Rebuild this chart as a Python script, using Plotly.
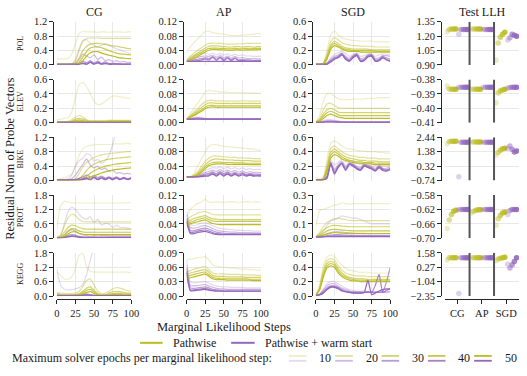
import plotly.graph_objects as go

# ---------------- data ----------------
X = [0, 5, 10, 15, 20, 25, 30, 35, 40, 45, 50, 55, 60, 65, 70, 75, 80, 85, 90, 95, 100]
EPOCHS = [10, 20, 30, 40, 50]
DATASETS = ["POL", "ELEV", "BIKE", "PROT", "KEGG"]
SOLVERS = ["CG", "AP", "SGD"]

# residual norm, one list per epoch budget (10, 20, 30, 40, 50); PW = pathwise, WS = pathwise + warm start
POL_CG_PW = [
    [0.17,0.17,0.17,0.18,0.30,0.60,0.88,0.93,0.92,0.92,0.92,0.91,0.92,0.92,0.91,0.92,0.92,0.92,0.91,0.92,0.92],
    [0.02,0.02,0.02,0.02,0.03,0.15,0.45,0.66,0.73,0.75,0.75,0.75,0.74,0.74,0.74,0.74,0.74,0.74,0.74,0.74,0.74],
    [0.02,0.02,0.02,0.02,0.02,0.05,0.20,0.40,0.52,0.58,0.60,0.60,0.59,0.57,0.55,0.53,0.52,0.50,0.48,0.46,0.45],
    [0.02,0.02,0.02,0.02,0.02,0.03,0.08,0.22,0.38,0.47,0.50,0.50,0.48,0.44,0.40,0.36,0.33,0.31,0.30,0.29,0.28],
    [0.02,0.02,0.02,0.02,0.02,0.02,0.04,0.12,0.25,0.34,0.37,0.37,0.33,0.30,0.27,0.25,0.22,0.20,0.19,0.18,0.18],
]
POL_CG_WS = [
    [0.02,0.02,0.02,0.02,0.02,0.10,0.40,0.68,0.70,0.60,0.55,0.50,0.55,0.60,0.55,0.50,0.45,0.42,0.38,0.34,0.30],
    [0.02,0.02,0.02,0.02,0.02,0.04,0.15,0.30,0.25,0.20,0.28,0.15,0.22,0.12,0.15,0.10,0.12,0.08,0.10,0.07,0.08],
    [0.02,0.02,0.02,0.02,0.02,0.02,0.05,0.10,0.06,0.12,0.05,0.11,0.04,0.09,0.04,0.05,0.04,0.04,0.03,0.03,0.03],
    [0.02,0.02,0.02,0.02,0.02,0.02,0.03,0.06,0.03,0.09,0.03,0.08,0.03,0.06,0.03,0.03,0.03,0.02,0.02,0.02,0.02],
    [0.02,0.02,0.02,0.02,0.02,0.02,0.02,0.04,0.02,0.07,0.02,0.06,0.02,0.04,0.02,0.02,0.02,0.02,0.02,0.02,0.02],
]
POL_AP_PW = [
    [0.035,0.050,0.062,0.073,0.083,0.093,0.094,0.090,0.088,0.087,0.086,0.084,0.082,0.081,0.082,0.083,0.084,0.085,0.086,0.087,0.087],
    [0.015,0.025,0.033,0.041,0.048,0.055,0.060,0.061,0.060,0.060,0.059,0.058,0.058,0.058,0.059,0.059,0.060,0.060,0.060,0.060,0.061],
    [0.012,0.020,0.027,0.034,0.040,0.047,0.052,0.053,0.053,0.052,0.051,0.050,0.050,0.051,0.051,0.050,0.051,0.051,0.050,0.051,0.051],
    [0.010,0.016,0.022,0.029,0.035,0.041,0.046,0.047,0.047,0.046,0.046,0.045,0.045,0.046,0.045,0.045,0.046,0.045,0.046,0.046,0.046],
    [0.010,0.013,0.018,0.024,0.030,0.036,0.041,0.043,0.043,0.042,0.042,0.041,0.041,0.042,0.042,0.041,0.042,0.042,0.042,0.042,0.043],
]
POL_AP_WS = [
    [0.010,0.018,0.025,0.030,0.033,0.032,0.030,0.033,0.028,0.032,0.027,0.031,0.026,0.030,0.026,0.028,0.025,0.025,0.024,0.024,0.024],
    [0.010,0.014,0.018,0.021,0.024,0.025,0.024,0.027,0.021,0.026,0.020,0.025,0.019,0.024,0.019,0.021,0.018,0.018,0.018,0.017,0.017],
    [0.010,0.012,0.014,0.016,0.018,0.020,0.018,0.023,0.016,0.022,0.015,0.021,0.015,0.020,0.014,0.016,0.014,0.014,0.013,0.013,0.013],
    [0.010,0.010,0.011,0.012,0.014,0.017,0.014,0.021,0.013,0.020,0.012,0.019,0.012,0.018,0.012,0.013,0.011,0.011,0.011,0.011,0.011],
    [0.010,0.010,0.010,0.010,0.010,0.010,0.010,0.010,0.010,0.010,0.010,0.010,0.010,0.010,0.010,0.010,0.010,0.010,0.010,0.010,0.010],
]
POL_SGD_PW = [
    [0.01,0.01,0.03,0.20,0.42,0.47,0.42,0.38,0.36,0.35,0.34,0.34,0.33,0.33,0.33,0.33,0.32,0.32,0.32,0.32,0.32],
    [0.01,0.01,0.02,0.15,0.33,0.38,0.35,0.31,0.29,0.28,0.27,0.27,0.26,0.26,0.26,0.26,0.25,0.25,0.25,0.25,0.25],
    [0.01,0.01,0.02,0.12,0.28,0.33,0.30,0.26,0.24,0.23,0.22,0.22,0.22,0.22,0.22,0.21,0.21,0.21,0.21,0.21,0.21],
    [0.01,0.01,0.01,0.10,0.25,0.30,0.27,0.24,0.22,0.21,0.20,0.20,0.20,0.20,0.20,0.20,0.19,0.19,0.19,0.19,0.19],
    [0.01,0.01,0.01,0.08,0.22,0.27,0.25,0.22,0.20,0.19,0.19,0.19,0.18,0.18,0.18,0.18,0.18,0.18,0.18,0.18,0.18],
]
POL_SGD_WS = [
    [0.01,0.01,0.01,0.03,0.10,0.15,0.17,0.19,0.16,0.12,0.15,0.17,0.12,0.13,0.16,0.15,0.12,0.14,0.15,0.15,0.14],
    [0.01,0.01,0.01,0.02,0.08,0.12,0.14,0.17,0.12,0.09,0.13,0.16,0.09,0.10,0.14,0.15,0.09,0.10,0.13,0.13,0.12],
    [0.01,0.01,0.01,0.02,0.06,0.10,0.12,0.16,0.10,0.07,0.12,0.15,0.07,0.08,0.13,0.14,0.07,0.08,0.12,0.10,0.08],
    [0.01,0.01,0.01,0.01,0.05,0.09,0.11,0.15,0.09,0.06,0.11,0.14,0.06,0.07,0.12,0.13,0.06,0.07,0.11,0.08,0.06],
    [0.01,0.01,0.01,0.01,0.04,0.08,0.10,0.14,0.08,0.05,0.10,0.13,0.05,0.06,0.11,0.12,0.05,0.06,0.10,0.07,0.05],
]

ELEV_CG_PW = [
    [0.04,0.05,0.06,0.07,0.15,0.35,0.53,0.56,0.50,0.40,0.30,0.25,0.26,0.30,0.34,0.37,0.37,0.36,0.35,0.34,0.33],
    [0.01,0.01,0.01,0.02,0.04,0.08,0.10,0.08,0.04,0.03,0.03,0.03,0.03,0.03,0.035,0.035,0.035,0.035,0.035,0.035,0.035],
    [0.01,0.01,0.01,0.01,0.02,0.05,0.06,0.05,0.03,0.02,0.02,0.02,0.02,0.02,0.025,0.025,0.025,0.025,0.025,0.025,0.025],
    [0.01,0.01,0.01,0.01,0.015,0.03,0.04,0.03,0.02,0.015,0.015,0.015,0.015,0.015,0.02,0.02,0.02,0.02,0.02,0.02,0.02],
    [0.01,0.01,0.01,0.01,0.01,0.015,0.02,0.02,0.015,0.01,0.01,0.01,0.01,0.01,0.012,0.012,0.012,0.012,0.012,0.012,0.012],
]
ELEV_CG_WS = [
    [0.005,0.005,0.005,0.010,0.020,0.030,0.025,0.015,0.010,0.008,0.008,0.008,0.008,0.008,0.008,0.008,0.008,0.008,0.008,0.008,0.008],
    [0.005,0.005,0.005,0.008,0.012,0.015,0.012,0.009,0.007,0.006,0.006,0.006,0.006,0.006,0.006,0.006,0.006,0.006,0.006,0.006,0.006],
    [0.005,0.005,0.005,0.006,0.008,0.010,0.009,0.007,0.006,0.005,0.005,0.005,0.005,0.005,0.005,0.005,0.005,0.005,0.005,0.005,0.005],
    [0.005,0.005,0.005,0.005,0.006,0.007,0.007,0.006,0.005,0.005,0.005,0.005,0.005,0.005,0.005,0.005,0.005,0.005,0.005,0.005,0.005],
    [0.005,0.005,0.005,0.005,0.005,0.005,0.005,0.005,0.005,0.005,0.005,0.005,0.005,0.005,0.005,0.005,0.005,0.005,0.005,0.005,0.005],
]
ELEV_AP_PW = [
    [0.010,0.025,0.040,0.055,0.070,0.085,0.090,0.088,0.087,0.086,0.085,0.085,0.084,0.084,0.084,0.083,0.083,0.083,0.083,0.082,0.082],
    [0.010,0.020,0.030,0.040,0.050,0.058,0.062,0.062,0.061,0.061,0.061,0.060,0.060,0.060,0.060,0.061,0.061,0.060,0.060,0.060,0.060],
    [0.010,0.018,0.026,0.034,0.042,0.050,0.055,0.055,0.054,0.054,0.054,0.054,0.053,0.054,0.054,0.054,0.054,0.054,0.054,0.054,0.054],
    [0.010,0.016,0.022,0.029,0.036,0.043,0.048,0.048,0.047,0.047,0.047,0.047,0.047,0.047,0.047,0.047,0.047,0.047,0.047,0.047,0.047],
    [0.010,0.015,0.020,0.026,0.032,0.039,0.043,0.044,0.043,0.043,0.043,0.043,0.043,0.043,0.043,0.043,0.043,0.043,0.043,0.043,0.043],
]
ELEV_AP_WS = [
    [0.010,0.012,0.015,0.016,0.015,0.012,0.010,0.010,0.010,0.010,0.010,0.010,0.010,0.010,0.010,0.010,0.010,0.010,0.010,0.010,0.010],
    [0.010,0.011,0.013,0.014,0.013,0.011,0.010,0.010,0.010,0.010,0.010,0.010,0.010,0.010,0.010,0.010,0.010,0.010,0.010,0.010,0.010],
    [0.010,0.010,0.011,0.012,0.011,0.010,0.010,0.010,0.010,0.010,0.010,0.010,0.010,0.010,0.010,0.010,0.010,0.010,0.010,0.010,0.010],
    [0.010,0.010,0.010,0.011,0.010,0.010,0.010,0.010,0.010,0.010,0.010,0.010,0.010,0.010,0.010,0.010,0.010,0.010,0.010,0.010,0.010],
    [0.010,0.010,0.010,0.010,0.010,0.010,0.010,0.010,0.010,0.010,0.010,0.010,0.010,0.010,0.010,0.010,0.010,0.010,0.010,0.010,0.010],
]
ELEV_SGD_PW = [
    [0.01,0.10,0.30,0.40,0.41,0.37,0.33,0.32,0.32,0.32,0.33,0.33,0.33,0.33,0.34,0.34,0.34,0.35,0.35,0.35,0.35],
    [0.01,0.06,0.18,0.26,0.27,0.24,0.21,0.20,0.20,0.20,0.20,0.20,0.20,0.20,0.20,0.20,0.20,0.20,0.20,0.20,0.20],
    [0.01,0.04,0.12,0.18,0.20,0.18,0.15,0.14,0.14,0.14,0.14,0.14,0.14,0.14,0.14,0.14,0.14,0.14,0.14,0.14,0.14],
    [0.01,0.03,0.09,0.14,0.16,0.14,0.11,0.10,0.10,0.10,0.10,0.10,0.10,0.10,0.10,0.10,0.10,0.10,0.10,0.10,0.10],
    [0.01,0.02,0.06,0.10,0.12,0.10,0.08,0.07,0.06,0.06,0.06,0.06,0.06,0.06,0.06,0.06,0.06,0.06,0.06,0.06,0.06],
]
ELEV_SGD_WS = [
    [0.005,0.010,0.030,0.045,0.045,0.035,0.025,0.020,0.015,0.012,0.012,0.012,0.012,0.012,0.012,0.012,0.012,0.012,0.012,0.012,0.012],
    [0.005,0.008,0.020,0.030,0.030,0.025,0.018,0.014,0.012,0.010,0.010,0.010,0.010,0.010,0.010,0.010,0.010,0.010,0.010,0.010,0.010],
    [0.005,0.006,0.012,0.018,0.018,0.015,0.012,0.010,0.008,0.008,0.008,0.008,0.008,0.008,0.008,0.008,0.008,0.008,0.008,0.008,0.008],
    [0.005,0.005,0.008,0.012,0.012,0.010,0.008,0.007,0.006,0.006,0.006,0.006,0.006,0.006,0.006,0.006,0.006,0.006,0.006,0.006,0.006],
    [0.005,0.005,0.006,0.008,0.008,0.007,0.006,0.005,0.005,0.005,0.005,0.005,0.005,0.005,0.005,0.005,0.005,0.005,0.005,0.005,0.005],
]

BIKE_CG_PW = [
    [0.03,0.05,0.08,0.12,0.18,0.40,0.70,0.88,0.96,0.98,0.99,1.00,1.00,1.00,1.00,1.01,1.02,1.02,1.02,1.03,1.02],
    [0.01,0.01,0.01,0.01,0.01,0.05,0.20,0.38,0.50,0.58,0.64,0.68,0.71,0.73,0.75,0.76,0.77,0.78,0.79,0.80,0.80],
    [0.01,0.01,0.01,0.01,0.01,0.02,0.06,0.15,0.28,0.38,0.45,0.50,0.54,0.57,0.59,0.61,0.62,0.63,0.64,0.65,0.66],
    [0.01,0.01,0.01,0.01,0.01,0.01,0.02,0.06,0.12,0.20,0.27,0.32,0.36,0.40,0.42,0.44,0.46,0.47,0.48,0.49,0.50],
    [0.01,0.01,0.01,0.01,0.01,0.01,0.01,0.02,0.05,0.09,0.13,0.17,0.21,0.24,0.27,0.29,0.31,0.32,0.33,0.34,0.35],
]
BIKE_CG_WS = [
    [0.02,0.02,0.02,0.04,0.15,0.40,0.55,0.62,0.75,0.70,0.55,0.58,0.48,0.55,0.70,1.00,1.40,1.80,2.00,2.00,2.00],
    [0.02,0.02,0.02,0.02,0.05,0.15,0.30,0.45,0.60,0.42,0.35,0.40,0.30,0.35,0.25,0.28,0.20,0.22,0.18,0.20,0.18],
    [0.02,0.02,0.02,0.02,0.02,0.03,0.06,0.10,0.15,0.10,0.14,0.08,0.12,0.07,0.10,0.06,0.10,0.05,0.09,0.05,0.08],
    [0.02,0.02,0.02,0.02,0.02,0.02,0.03,0.05,0.08,0.04,0.10,0.04,0.09,0.04,0.09,0.03,0.08,0.03,0.08,0.03,0.07],
    [0.02,0.02,0.02,0.02,0.02,0.02,0.02,0.03,0.05,0.02,0.08,0.02,0.07,0.02,0.07,0.02,0.07,0.02,0.06,0.02,0.06],
]
BIKE_AP_PW = [
    [0.010,0.010,0.020,0.040,0.060,0.080,0.095,0.100,0.099,0.097,0.095,0.094,0.093,0.092,0.091,0.090,0.089,0.088,0.087,0.085,0.084],
    [0.010,0.010,0.015,0.025,0.040,0.053,0.062,0.068,0.068,0.067,0.066,0.065,0.064,0.064,0.063,0.063,0.062,0.062,0.061,0.061,0.060],
    [0.010,0.010,0.013,0.020,0.032,0.044,0.053,0.058,0.060,0.059,0.058,0.057,0.057,0.056,0.056,0.055,0.055,0.055,0.054,0.054,0.054],
    [0.010,0.010,0.012,0.017,0.027,0.038,0.046,0.050,0.051,0.051,0.050,0.050,0.050,0.049,0.049,0.049,0.048,0.048,0.048,0.048,0.048],
    [0.010,0.010,0.011,0.015,0.023,0.033,0.041,0.045,0.046,0.046,0.046,0.045,0.045,0.045,0.045,0.045,0.045,0.044,0.044,0.044,0.044],
]
BIKE_AP_WS = [
    [0.010,0.010,0.012,0.016,0.022,0.028,0.032,0.036,0.034,0.038,0.033,0.037,0.032,0.036,0.031,0.035,0.030,0.033,0.030,0.031,0.030],
    [0.010,0.010,0.011,0.014,0.018,0.022,0.025,0.029,0.025,0.030,0.025,0.029,0.024,0.028,0.023,0.027,0.022,0.025,0.022,0.023,0.022],
    [0.010,0.010,0.010,0.012,0.015,0.018,0.020,0.024,0.019,0.025,0.019,0.024,0.018,0.023,0.018,0.022,0.017,0.020,0.017,0.018,0.017],
    [0.010,0.010,0.010,0.011,0.013,0.015,0.016,0.021,0.015,0.022,0.015,0.021,0.014,0.020,0.014,0.019,0.014,0.017,0.014,0.015,0.014],
    [0.010,0.010,0.010,0.010,0.011,0.012,0.013,0.018,0.012,0.019,0.012,0.018,0.012,0.017,0.012,0.016,0.012,0.015,0.012,0.013,0.012],
]
BIKE_SGD_PW = [
    [0.04,0.02,0.05,0.30,0.52,0.55,0.52,0.48,0.45,0.44,0.43,0.42,0.41,0.41,0.40,0.40,0.40,0.39,0.39,0.38,0.38],
    [0.01,0.01,0.03,0.22,0.44,0.48,0.44,0.40,0.37,0.35,0.34,0.33,0.32,0.32,0.31,0.31,0.31,0.30,0.30,0.30,0.30],
    [0.01,0.01,0.02,0.18,0.39,0.44,0.40,0.36,0.33,0.31,0.30,0.29,0.28,0.28,0.27,0.27,0.27,0.26,0.26,0.26,0.26],
    [0.01,0.01,0.02,0.15,0.35,0.40,0.37,0.33,0.30,0.28,0.27,0.26,0.26,0.25,0.25,0.25,0.24,0.24,0.24,0.24,0.24],
    [0.01,0.01,0.01,0.12,0.31,0.36,0.34,0.30,0.28,0.26,0.25,0.24,0.24,0.23,0.23,0.23,0.22,0.22,0.22,0.22,0.22],
]
BIKE_SGD_WS = [
    [0.01,0.01,0.01,0.08,0.28,0.22,0.25,0.30,0.26,0.28,0.27,0.25,0.22,0.25,0.24,0.23,0.21,0.23,0.20,0.20,0.21],
    [0.01,0.01,0.01,0.06,0.26,0.15,0.22,0.27,0.20,0.25,0.23,0.20,0.18,0.23,0.21,0.20,0.17,0.21,0.17,0.17,0.19],
    [0.01,0.01,0.01,0.05,0.25,0.12,0.20,0.25,0.17,0.24,0.22,0.18,0.16,0.22,0.20,0.18,0.15,0.20,0.16,0.15,0.17],
    [0.01,0.01,0.01,0.04,0.24,0.10,0.19,0.24,0.15,0.23,0.21,0.17,0.15,0.21,0.19,0.17,0.14,0.19,0.15,0.14,0.16],
    [0.01,0.01,0.01,0.03,0.23,0.09,0.18,0.23,0.14,0.22,0.20,0.16,0.14,0.20,0.18,0.16,0.13,0.18,0.14,0.13,0.15],
]

PROT_CG_PW = [
    [0.35,1.35,1.55,1.50,1.48,1.47,1.47,1.47,1.47,1.47,1.47,1.47,1.47,1.47,1.47,1.47,1.47,1.47,1.47,1.48,1.48],
    [0.02,0.15,0.50,0.85,1.00,0.95,0.78,0.70,0.68,0.68,0.68,0.68,0.68,0.68,0.68,0.68,0.68,0.68,0.68,0.68,0.68],
    [0.02,0.08,0.25,0.45,0.55,0.52,0.45,0.40,0.38,0.38,0.38,0.38,0.38,0.38,0.38,0.38,0.38,0.38,0.38,0.38,0.38],
    [0.02,0.05,0.15,0.30,0.40,0.38,0.30,0.26,0.25,0.25,0.25,0.25,0.25,0.25,0.25,0.25,0.25,0.25,0.25,0.25,0.25],
    [0.02,0.03,0.08,0.18,0.26,0.27,0.20,0.16,0.15,0.15,0.15,0.15,0.15,0.15,0.15,0.15,0.15,0.15,0.15,0.15,0.15],
]
PROT_CG_WS = [
    [0.02,0.10,0.60,1.10,1.30,1.20,1.00,0.85,0.80,0.90,0.65,0.80,0.55,0.62,0.60,0.45,0.55,0.45,0.45,0.42,0.40],
    [0.02,0.03,0.12,0.28,0.35,0.30,0.20,0.15,0.13,0.16,0.12,0.14,0.11,0.12,0.10,0.10,0.10,0.10,0.10,0.10,0.10],
    [0.02,0.02,0.06,0.12,0.15,0.13,0.08,0.06,0.05,0.06,0.05,0.05,0.05,0.05,0.05,0.05,0.05,0.05,0.05,0.05,0.05],
    [0.02,0.02,0.04,0.08,0.10,0.09,0.05,0.04,0.035,0.035,0.035,0.035,0.035,0.035,0.035,0.035,0.035,0.035,0.035,0.035,0.035],
    [0.02,0.02,0.03,0.06,0.08,0.07,0.04,0.03,0.03,0.03,0.03,0.03,0.03,0.03,0.03,0.03,0.03,0.03,0.03,0.03,0.03],
]
PROT_AP_PW = [
    [0.060,0.080,0.090,0.097,0.100,0.108,0.100,0.100,0.101,0.100,0.100,0.101,0.102,0.101,0.100,0.101,0.102,0.101,0.100,0.101,0.100],
    [0.050,0.060,0.065,0.070,0.073,0.075,0.070,0.066,0.065,0.065,0.065,0.065,0.065,0.065,0.065,0.065,0.065,0.065,0.065,0.065,0.065],
    [0.045,0.050,0.055,0.058,0.061,0.063,0.058,0.054,0.053,0.052,0.052,0.052,0.052,0.052,0.052,0.052,0.052,0.052,0.052,0.052,0.052],
    [0.040,0.044,0.048,0.052,0.055,0.057,0.052,0.048,0.047,0.047,0.047,0.047,0.047,0.047,0.047,0.047,0.047,0.047,0.047,0.047,0.047],
    [0.035,0.040,0.043,0.046,0.049,0.051,0.046,0.041,0.039,0.038,0.038,0.038,0.038,0.038,0.038,0.038,0.038,0.038,0.038,0.038,0.038],
]
PROT_AP_WS = [
    [0.075,0.040,0.035,0.038,0.042,0.043,0.040,0.035,0.030,0.028,0.026,0.025,0.024,0.023,0.022,0.022,0.021,0.021,0.020,0.020,0.020],
    [0.065,0.030,0.028,0.030,0.034,0.035,0.032,0.027,0.023,0.020,0.019,0.018,0.017,0.017,0.016,0.016,0.016,0.016,0.015,0.015,0.015],
    [0.055,0.022,0.021,0.024,0.027,0.028,0.025,0.021,0.017,0.015,0.014,0.013,0.013,0.013,0.012,0.012,0.012,0.012,0.012,0.012,0.012],
    [0.050,0.017,0.017,0.020,0.022,0.023,0.020,0.016,0.013,0.012,0.011,0.011,0.011,0.011,0.011,0.011,0.011,0.011,0.011,0.011,0.011],
    [0.045,0.013,0.013,0.016,0.018,0.019,0.016,0.013,0.011,0.010,0.010,0.010,0.010,0.010,0.010,0.010,0.010,0.010,0.010,0.010,0.010],
]
PROT_SGD_PW = [
    [0.08,0.19,0.20,0.21,0.22,0.23,0.235,0.245,0.24,0.238,0.24,0.24,0.238,0.24,0.24,0.24,0.24,0.24,0.24,0.24,0.24],
    [0.01,0.04,0.08,0.11,0.125,0.135,0.14,0.135,0.13,0.125,0.123,0.122,0.122,0.122,0.122,0.122,0.122,0.122,0.122,0.122,0.122],
    [0.01,0.03,0.055,0.075,0.085,0.09,0.088,0.085,0.082,0.08,0.08,0.08,0.08,0.08,0.08,0.08,0.08,0.08,0.08,0.08,0.08],
    [0.01,0.02,0.035,0.05,0.06,0.062,0.06,0.057,0.055,0.053,0.052,0.052,0.052,0.052,0.052,0.052,0.052,0.052,0.052,0.052,0.052],
    [0.01,0.015,0.022,0.03,0.036,0.04,0.038,0.036,0.034,0.033,0.033,0.033,0.033,0.033,0.033,0.033,0.033,0.033,0.033,0.033,0.033],
]
PROT_SGD_WS = [
    [0.01,0.02,0.05,0.09,0.12,0.13,0.14,0.155,0.15,0.145,0.14,0.14,0.13,0.12,0.11,0.10,0.10,0.10,0.10,0.10,0.10],
    [0.01,0.012,0.02,0.03,0.04,0.045,0.045,0.042,0.04,0.038,0.036,0.035,0.034,0.034,0.033,0.033,0.033,0.033,0.033,0.033,0.033],
    [0.01,0.01,0.013,0.018,0.022,0.025,0.025,0.023,0.022,0.02,0.02,0.02,0.02,0.02,0.02,0.02,0.02,0.02,0.02,0.02,0.02],
    [0.01,0.01,0.011,0.013,0.015,0.017,0.017,0.016,0.015,0.015,0.014,0.014,0.014,0.014,0.014,0.014,0.014,0.014,0.014,0.014,0.014],
    [0.01,0.01,0.01,0.011,0.012,0.012,0.012,0.012,0.011,0.011,0.011,0.011,0.011,0.011,0.011,0.011,0.011,0.011,0.011,0.011,0.011],
]

KEGG_CG_PW = [
    [1.03,0.85,0.72,0.70,0.80,1.15,1.70,1.78,1.20,1.02,1.00,1.00,1.00,0.99,1.00,1.00,1.00,0.99,1.00,0.99,0.98],
    [0.15,0.12,0.10,0.10,0.10,0.12,0.20,0.40,0.65,0.72,0.45,0.20,0.10,0.12,0.20,0.30,0.35,0.33,0.28,0.22,0.20],
    [0.08,0.06,0.05,0.05,0.05,0.06,0.10,0.20,0.33,0.38,0.25,0.10,0.05,0.06,0.12,0.18,0.20,0.18,0.15,0.12,0.12],
    [0.05,0.04,0.03,0.03,0.03,0.04,0.06,0.14,0.24,0.28,0.18,0.06,0.03,0.04,0.07,0.10,0.12,0.11,0.09,0.08,0.08],
    [0.03,0.02,0.02,0.02,0.02,0.03,0.04,0.09,0.15,0.18,0.11,0.04,0.02,0.03,0.04,0.06,0.07,0.06,0.05,0.05,0.05],
]
KEGG_CG_WS = [
    [1.10,0.45,0.28,0.26,0.27,0.30,0.35,0.50,0.90,1.50,2.10,2.50,2.50,2.50,2.50,2.50,2.50,2.50,2.50,2.50,2.50],
    [0.10,0.05,0.04,0.04,0.04,0.05,0.06,0.08,0.10,0.06,0.04,0.03,0.03,0.03,0.03,0.03,0.03,0.03,0.03,0.03,0.03],
    [0.03,0.02,0.02,0.02,0.02,0.02,0.03,0.04,0.06,0.04,0.03,0.02,0.02,0.02,0.02,0.02,0.02,0.02,0.02,0.02,0.02],
    [0.02,0.02,0.02,0.02,0.02,0.02,0.02,0.03,0.05,0.03,0.02,0.02,0.02,0.02,0.02,0.02,0.02,0.02,0.02,0.02,0.02],
    [0.02,0.02,0.02,0.02,0.02,0.02,0.02,0.03,0.04,0.03,0.02,0.02,0.02,0.02,0.02,0.02,0.02,0.02,0.02,0.02,0.02],
]
KEGG_AP_PW = [
    [0.076,0.077,0.078,0.080,0.081,0.082,0.075,0.065,0.062,0.061,0.060,0.059,0.058,0.058,0.057,0.056,0.056,0.055,0.055,0.054,0.054],
    [0.050,0.053,0.056,0.058,0.060,0.061,0.055,0.048,0.046,0.046,0.046,0.045,0.045,0.045,0.045,0.044,0.044,0.044,0.044,0.043,0.043],
    [0.045,0.048,0.050,0.052,0.054,0.055,0.050,0.043,0.041,0.041,0.041,0.040,0.040,0.040,0.040,0.040,0.039,0.039,0.039,0.039,0.039],
    [0.040,0.043,0.045,0.047,0.049,0.050,0.045,0.039,0.037,0.037,0.037,0.036,0.036,0.036,0.036,0.036,0.036,0.035,0.035,0.035,0.035],
    [0.035,0.038,0.040,0.042,0.044,0.046,0.041,0.036,0.034,0.034,0.034,0.033,0.033,0.033,0.033,0.033,0.033,0.033,0.032,0.032,0.032],
]
KEGG_AP_WS = [
    [0.075,0.030,0.028,0.028,0.029,0.030,0.027,0.023,0.021,0.020,0.019,0.019,0.018,0.018,0.018,0.018,0.017,0.017,0.017,0.017,0.017],
    [0.065,0.022,0.021,0.022,0.023,0.024,0.021,0.018,0.016,0.015,0.015,0.014,0.014,0.014,0.014,0.014,0.014,0.014,0.014,0.014,0.014],
    [0.058,0.017,0.016,0.017,0.018,0.019,0.017,0.014,0.013,0.012,0.012,0.012,0.012,0.012,0.012,0.012,0.012,0.012,0.012,0.012,0.012],
    [0.052,0.013,0.013,0.014,0.015,0.016,0.014,0.012,0.011,0.011,0.010,0.010,0.010,0.010,0.010,0.010,0.010,0.010,0.010,0.010,0.010],
    [0.048,0.011,0.011,0.012,0.013,0.014,0.012,0.011,0.010,0.010,0.010,0.010,0.010,0.010,0.010,0.010,0.010,0.010,0.010,0.010,0.010],
]
KEGG_SGD_PW = [
    [0.01,0.15,0.42,0.54,0.57,0.55,0.48,0.43,0.39,0.36,0.35,0.34,0.33,0.33,0.33,0.32,0.32,0.32,0.32,0.32,0.32],
    [0.01,0.12,0.36,0.49,0.52,0.50,0.42,0.36,0.32,0.30,0.29,0.28,0.28,0.28,0.27,0.27,0.27,0.27,0.27,0.27,0.27],
    [0.01,0.10,0.32,0.45,0.48,0.46,0.38,0.32,0.28,0.26,0.25,0.24,0.24,0.24,0.23,0.23,0.23,0.23,0.23,0.23,0.23],
    [0.01,0.09,0.29,0.42,0.45,0.43,0.35,0.29,0.26,0.24,0.23,0.22,0.22,0.22,0.21,0.21,0.21,0.21,0.21,0.21,0.21],
    [0.01,0.08,0.26,0.39,0.42,0.40,0.32,0.27,0.24,0.22,0.21,0.21,0.20,0.20,0.20,0.20,0.20,0.20,0.20,0.20,0.20],
]
KEGG_SGD_WS = [
    [0.01,0.03,0.10,0.17,0.20,0.20,0.17,0.14,0.11,0.09,0.08,0.07,0.07,0.07,0.06,0.06,0.06,0.06,0.06,0.06,0.06],
    [0.01,0.025,0.08,0.14,0.17,0.17,0.14,0.11,0.09,0.07,0.06,0.06,0.06,0.05,0.05,0.05,0.05,0.05,0.05,0.05,0.06],
    [0.01,0.02,0.06,0.11,0.14,0.14,0.12,0.09,0.07,0.06,0.05,0.05,0.05,0.05,0.05,0.05,0.05,0.05,0.06,0.20,0.40],
    [0.01,0.02,0.05,0.10,0.13,0.13,0.11,0.08,0.06,0.05,0.05,0.04,0.04,0.05,0.06,0.05,0.15,0.30,0.05,0.08,0.10],
    [0.01,0.015,0.04,0.09,0.12,0.12,0.10,0.07,0.06,0.05,0.04,0.04,0.04,0.05,0.22,0.02,0.04,0.07,0.09,0.10,0.10],
]

# test log-likelihood: rows = solver (CG, AP, SGD), values per epoch budget 10..50
POL_LLH_PW = [[1.25, 1.27, 1.275, 1.275, 1.275], [1.275, 1.275, 1.275, 1.275, 1.275], [0.95, 1.13, 1.19, 1.22, 1.24]]
POL_LLH_WS = [[1.22, 1.27, 1.27, 1.27, 1.27], [1.27, 1.27, 1.27, 1.27, 1.27], [1.16, 1.185, 1.22, 1.21, 1.20]]
ELEV_LLH_PW = [[-0.3845, -0.3866, -0.3867, -0.3867, -0.3867], [-0.3867, -0.3867, -0.3867, -0.3867, -0.3867], [-0.3961, -0.3894, -0.3878, -0.3872, -0.3868]]
ELEV_LLH_WS = [[-0.3854, -0.3854, -0.3854, -0.3854, -0.3854], [-0.3854, -0.3854, -0.3854, -0.3854, -0.3854], [-0.3858, -0.3855, -0.3854, -0.3854, -0.3854]]
BIKE_LLH_PW = [[1.96, 2.14, 2.15, 2.15, 2.15], [2.10, 2.10, 2.10, 2.10, 2.10], [1.13, 1.32, 1.49, 1.59, 1.64]]
BIKE_LLH_WS = [[-0.46, 2.08, 2.08, 2.08, 2.08], [2.08, 2.08, 2.08, 2.08, 2.08], [1.63, 1.80, 1.57, 1.36, 1.44]]
PROT_LLH_PW = [[-0.673, -0.649, -0.634, -0.625, -0.622], [-0.630, -0.625, -0.622, -0.621, -0.621], [-0.664, -0.646, -0.637, -0.630, -0.627]]
PROT_LLH_WS = [[-0.620, -0.620, -0.620, -0.620, -0.620], [-0.620, -0.620, -0.620, -0.620, -0.620], [-0.634, -0.623, -0.620, -0.620, -0.620]]
KEGG_LLH_PW = [[0.93, 1.14, 1.14, 1.14, 1.14], [1.14, 1.14, 1.14, 1.14, 1.14], [0.87, 1.02, 1.08, 1.14, 1.17]]
KEGG_LLH_WS = [[-2.12, 1.14, 1.14, 1.14, 1.14], [1.14, 1.14, 1.14, 1.14, 1.14], [0.55, 0.19, 0.49, 0.78, 1.14]]

# tick values per row
CG_TICKS = [[0, 0.4, 0.8, 1.2], [0, 0.2, 0.4, 0.6], [0, 0.4, 0.8, 1.2], [0, 0.6, 1.2, 1.8], [0, 0.6, 1.2, 1.8]]
AP_TICKS = [[0, 0.04, 0.08, 0.12], [0, 0.04, 0.08, 0.12], [0, 0.04, 0.08, 0.12], [0, 0.04, 0.08, 0.12], [0, 0.03, 0.06, 0.09]]
SGD_TICKS = [[0, 0.2, 0.4, 0.6], [0, 0.2, 0.4, 0.6], [0, 0.2, 0.4, 0.6], [0, 0.1, 0.2, 0.3], [0, 0.2, 0.4, 0.6]]
LLH_TICKS = [[0.90, 1.05, 1.20, 1.35], [-0.41, -0.40, -0.39, -0.38], [-0.74, 0.32, 1.38, 2.44],
             [-0.70, -0.66, -0.62, -0.58], [-2.35, -1.04, 0.27, 1.58]]
X_TICKS = [0, 25, 50, 75, 100]

RESID = {
    "POL": [(POL_CG_PW, POL_CG_WS), (POL_AP_PW, POL_AP_WS), (POL_SGD_PW, POL_SGD_WS)],
    "ELEV": [(ELEV_CG_PW, ELEV_CG_WS), (ELEV_AP_PW, ELEV_AP_WS), (ELEV_SGD_PW, ELEV_SGD_WS)],
    "BIKE": [(BIKE_CG_PW, BIKE_CG_WS), (BIKE_AP_PW, BIKE_AP_WS), (BIKE_SGD_PW, BIKE_SGD_WS)],
    "PROT": [(PROT_CG_PW, PROT_CG_WS), (PROT_AP_PW, PROT_AP_WS), (PROT_SGD_PW, PROT_SGD_WS)],
    "KEGG": [(KEGG_CG_PW, KEGG_CG_WS), (KEGG_AP_PW, KEGG_AP_WS), (KEGG_SGD_PW, KEGG_SGD_WS)],
}
LLH = {
    "POL": (POL_LLH_PW, POL_LLH_WS), "ELEV": (ELEV_LLH_PW, ELEV_LLH_WS), "BIKE": (BIKE_LLH_PW, BIKE_LLH_WS),
    "PROT": (PROT_LLH_PW, PROT_LLH_WS), "KEGG": (KEGG_LLH_PW, KEGG_LLH_WS),
}
TICKS = [CG_TICKS, AP_TICKS, SGD_TICKS, LLH_TICKS]
DECIMALS = [1, 2, 1, 2]

for ds in DATASETS:
    for pw, ws in RESID[ds]:
        for s in pw + ws:
            assert len(s) == len(X), (ds, len(s))

# ---------------- style / layout ----------------
W, H = 527, 376
OLIVE = (188, 189, 34)
PURPLE = (148, 103, 189)
ALPHAS = [0.25, 0.45, 0.65, 0.82, 1.0]
DOT_ALPHAS = [0.3, 0.5, 0.65, 0.8, 0.9]
PW_OFF = [-0.42, -0.33, -0.24, -0.15, -0.06]
WS_OFF = [0.06, 0.15, 0.24, 0.33, 0.42]
FONT = "Liberation Serif"
TXT = "#1a1a1a"
AXC = "#262626"
GRID = "#e8e8e8"

COL_X0 = [55, 187.5, 319.5, 451]
COL_W = 76
ROW_Y0 = [17.3, 76.8, 136.3, 195.8, 255.3]
ROW_H = 44.5
SPINE_OFF = 3.5
XSPINE_Y = 303


def fx(p):
    return p / W


def fy(p):
    return 1 - p / H


def rgba(c, a):
    return f"rgba({c[0]},{c[1]},{c[2]},{a})"


def fmt(v, d):
    return f"{v:.{d}f}".replace("-", "\u2212")


fig = go.Figure()
layout = {}
shapes = []
annotations = []

for r, ds in enumerate(DATASETS):
    for c in range(4):
        k = r * 4 + c + 1
        xn = "x" if k == 1 else f"x{k}"
        yn = "y" if k == 1 else f"y{k}"
        xk = "xaxis" if k == 1 else f"xaxis{k}"
        yk = "yaxis" if k == 1 else f"yaxis{k}"
        ticks = TICKS[c][r]
        dec = DECIMALS[c]
        x0 = COL_X0[c]
        top = ROW_Y0[r]

        if c < 3:
            pw, ws = RESID[ds][c]
            for e in range(5):
                fig.add_trace(go.Scatter(x=X, y=pw[e], xaxis=xn, yaxis=yn, mode="lines",
                                         line=dict(color=rgba(OLIVE, ALPHAS[e]), width=1.2,
                                                   shape="spline", smoothing=0.5),
                                         showlegend=False, hoverinfo="skip"))
                fig.add_trace(go.Scatter(x=X, y=ws[e], xaxis=xn, yaxis=yn, mode="lines",
                                         line=dict(color=rgba(PURPLE, ALPHAS[e]), width=1.2,
                                                   shape="spline", smoothing=0.5),
                                         showlegend=False, hoverinfo="skip"))
            xr = [0, 100]
            xtv, xtt = X_TICKS, [str(t) for t in X_TICKS]
            xgrid = True
        else:
            pw, ws = LLH[ds]
            for s in range(3):
                fig.add_trace(go.Scatter(
                    x=[s + o for o in PW_OFF], y=pw[s], xaxis=xn, yaxis=yn, mode="markers",
                    marker=dict(size=5.5, color=[rgba(OLIVE, a) for a in DOT_ALPHAS], line=dict(width=0)),
                    showlegend=False, hoverinfo="skip"))
                fig.add_trace(go.Scatter(
                    x=[s + o for o in WS_OFF], y=ws[s], xaxis=xn, yaxis=yn, mode="markers",
                    marker=dict(size=5.5, color=[rgba(PURPLE, a) for a in DOT_ALPHAS], line=dict(width=0)),
                    showlegend=False, hoverinfo="skip"))
            for sep in (0.5, 1.5):
                shapes.append(dict(type="line", xref=xn, yref=yn, x0=sep, x1=sep,
                                   y0=ticks[0], y1=ticks[-1], line=dict(color="#555555", width=2)))
            xr = [-0.52, 2.52]
            xtv, xtt = [0, 1, 2], SOLVERS
            xgrid = False

        xa = dict(domain=[fx(x0), fx(x0 + COL_W)], range=xr, tickvals=xtv, ticktext=xtt,
                  showgrid=xgrid, gridcolor=GRID, gridwidth=0.8, zeroline=False, fixedrange=True,
                  tickfont=dict(family=FONT, size=10.5, color=TXT))
        if r == len(DATASETS) - 1:
            xa.update(anchor="free", position=fy(XSPINE_Y), showline=True, linecolor=AXC, linewidth=1.2,
                      ticks="outside", ticklen=4, tickwidth=1.2, tickcolor=AXC, showticklabels=True)
        else:
            xa.update(anchor=yn, showline=False, ticks="", showticklabels=False)
        layout[xk] = xa

        layout[yk] = dict(domain=[fy(top + ROW_H), fy(top)], range=[ticks[0], ticks[-1]],
                          tickvals=ticks, ticktext=[fmt(t, dec) for t in ticks],
                          anchor="free", position=fx(x0 - SPINE_OFF), showline=True, linecolor=AXC,
                          linewidth=1.2, ticks="outside", ticklen=4, tickwidth=1.2, tickcolor=AXC,
                          showgrid=True, gridcolor=GRID, gridwidth=0.8, zeroline=False, fixedrange=True,
                          tickfont=dict(family=FONT, size=10.5, color=TXT))


def ann(text, x, y, size, xanchor="center", angle=0):
    annotations.append(dict(text=text, x=fx(x), y=fy(y), xref="paper", yref="paper", showarrow=False,
                            xanchor=xanchor, yanchor="middle", textangle=angle,
                            font=dict(family=FONT, size=size, color=TXT)))


# column titles
for c, title in enumerate(SOLVERS + ["Test LLH"]):
    ann(title, COL_X0[c] + COL_W / 2, 7, 12)
# row labels
for r, ds in enumerate(DATASETS):
    ann(ds, 18, ROW_Y0[r] + ROW_H / 2, 8, angle=-90)
ann("Residual Norm of Probe Vectors", 7, (ROW_Y0[0] + ROW_Y0[-1] + ROW_H) / 2, 12.5, angle=-90)
ann("Marginal Likelihood Steps", (COL_X0[0] + COL_X0[2] + COL_W) / 2, 332, 12.5)

# legend: methods
shapes.append(dict(type="line", xref="paper", yref="paper", x0=fx(140), x1=fx(163), y0=fy(348), y1=fy(348),
                   line=dict(color=rgba(OLIVE, 1), width=2)))
ann("Pathwise", 172, 348, 12, xanchor="left")
shapes.append(dict(type="line", xref="paper", yref="paper", x0=fx(233), x1=fx(257), y0=fy(348), y1=fy(348),
                   line=dict(color=rgba(PURPLE, 1), width=2)))
ann("Pathwise + warm start", 266, 348, 12, xanchor="left")

# legend: epochs
ann("Maximum solver epochs per marginal likelihood step:", 7, 364, 12, xanchor="left")
for i, ep in enumerate(EPOCHS):
    lx = 292 + 47.3 * i
    shapes.append(dict(type="line", xref="paper", yref="paper", x0=fx(lx), x1=fx(lx + 18), y0=fy(361.5),
                       y1=fy(361.5), line=dict(color=rgba(OLIVE, ALPHAS[i]), width=1.8)))
    shapes.append(dict(type="line", xref="paper", yref="paper", x0=fx(lx), x1=fx(lx + 18), y0=fy(366.5),
                       y1=fy(366.5), line=dict(color=rgba(PURPLE, ALPHAS[i]), width=1.8)))
    ann(str(ep), lx + 29, 364, 12, xanchor="left")

fig.update_layout(width=W, height=H, margin=dict(l=0, r=0, t=0, b=0), paper_bgcolor="white",
                  plot_bgcolor="white", showlegend=False, shapes=shapes, annotations=annotations, **layout)

fig.write_html("out.html", config={"displayModeBar": False},
               post_script="document.body.style.margin='0px';document.body.style.overflow='hidden';")
